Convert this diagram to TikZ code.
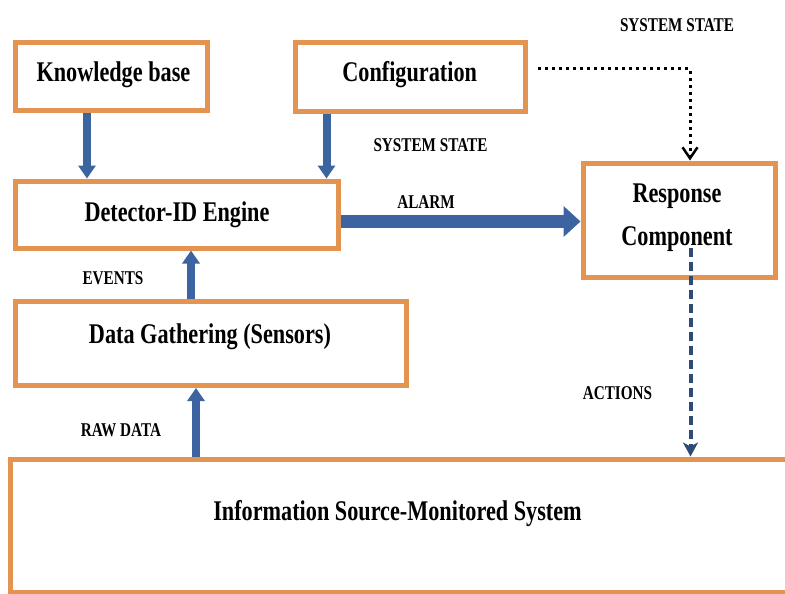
\documentclass[tikz,border=0pt]{standalone}
\usepackage{fontspec}
\usetikzlibrary{arrows.meta}
\newfontfamily\dfont{Liberation Serif}[FakeStretch=0.78]
\definecolor{boxline}{HTML}{E39450}
\definecolor{flowblue}{HTML}{3B64A0}
\definecolor{actblue}{HTML}{2E4B78}
\tikzset{
  block/.style={draw=boxline, line width=5pt, fill=white, rectangle, inner sep=0pt},
  blocktext/.style={anchor=base, inner sep=0pt, font=\dfont\bfseries\fontsize{28.5}{30}\selectfont},
  flowlabel/.style={anchor=base, inner sep=0pt, font=\dfont\bfseries\fontsize{19.5}{20}\selectfont},
  flow/.style={draw=flowblue, line width=8pt, -{Triangle[width=17pt,length=13pt]}},
  alarmflow/.style={draw=flowblue, line width=13pt, -{Triangle[width=30pt,length=17pt]}},
  stateflow/.style={draw=black, line width=3pt, dash pattern=on 3pt off 4pt,
    -{Straight Barb[length=11pt,width=15pt,line width=2.5pt]}},
  actionflow/.style={draw=actblue, line width=4pt, dash pattern=on 9pt off 5pt,
    -{Stealth[length=14pt,width=15pt,inset=4pt]}},
}
\begin{document}
\begin{tikzpicture}[x=1pt, y=-1pt]
\useasboundingbox (0,0) rectangle (785,594);
\clip (0,0) rectangle (785,594);

% boxes
\node[block, minimum width=192pt, minimum height=67.5pt] (kb) at (111.5,76.75) {};
\node[block, minimum width=229.5pt, minimum height=68pt] (cfg) at (410.25,77) {};
\node[block, minimum width=322.5pt, minimum height=67pt] (det) at (176.75,214.5) {};
\node[block, minimum width=192pt, minimum height=114pt] (resp) at (679,220) {};
\node[block, minimum width=391pt, minimum height=84.5pt] (data) at (210.5,343.25) {};
% the monitored system runs on past the right edge
\node[block, minimum width=809.5pt, minimum height=133pt] (info) at (415.25,525.5) {};

% box captions
\node[blocktext] (kbtext) at (113.4,81.7) {Knowledge base};
\node[blocktext] (cfgtext) at (409.7,81.7) {Configuration};
\node[blocktext] (dettext) at (177,221.7) {Detector-ID Engine};
\node[blocktext] (resptext) at (677,202.3) {Response};
\node[blocktext] (comptext) at (677,245) {Component};
\node[blocktext] (datatext) at (210,343.3) {Data Gathering (Sensors)};
\node[blocktext] (infotext) at (397.5,520) {Information Source-Monitored System};

% flow labels
\node[flowlabel] (sstop) at (677,31.7) {SYSTEM STATE};
\node[flowlabel] (ssmid) at (430.5,151.5) {SYSTEM STATE};
\node[flowlabel] (alarm) at (426,208) {ALARM};
\node[flowlabel] (events) at (113,284) {EVENTS};
\node[flowlabel] (raw) at (121,436.7) {RAW DATA};
\node[flowlabel] (actions) at (617.5,399) {ACTIONS};

% reference columns and free ends
\coordinate (c1) at (87,0);
\coordinate (c2) at (326.5,0);
\coordinate (c3) at (191,0);
\coordinate (c4) at (196,0);
\coordinate (ar) at (0,221.5);
\coordinate (ds) at (538,69);
\coordinate (dcol) at (690,0);
\coordinate (actstart) at (690.5,248);

% connectors
\draw[flow] (kb.south -| c1) -- (det.north -| c1);
\draw[flow] (cfg.south -| c2) -- (det.north -| c2);
\draw[flow] (data.north -| c3) -- (det.south -| c3);
\draw[flow] (info.north -| c4) -- (data.south -| c4);
\draw[alarmflow] (det.east |- ar) -- (resp.west |- ar);
\draw[stateflow] (ds) -| (resp.north -| dcol);
\draw[actionflow] (actstart) -- (info.north -| actstart);
\end{tikzpicture}
\end{document}
